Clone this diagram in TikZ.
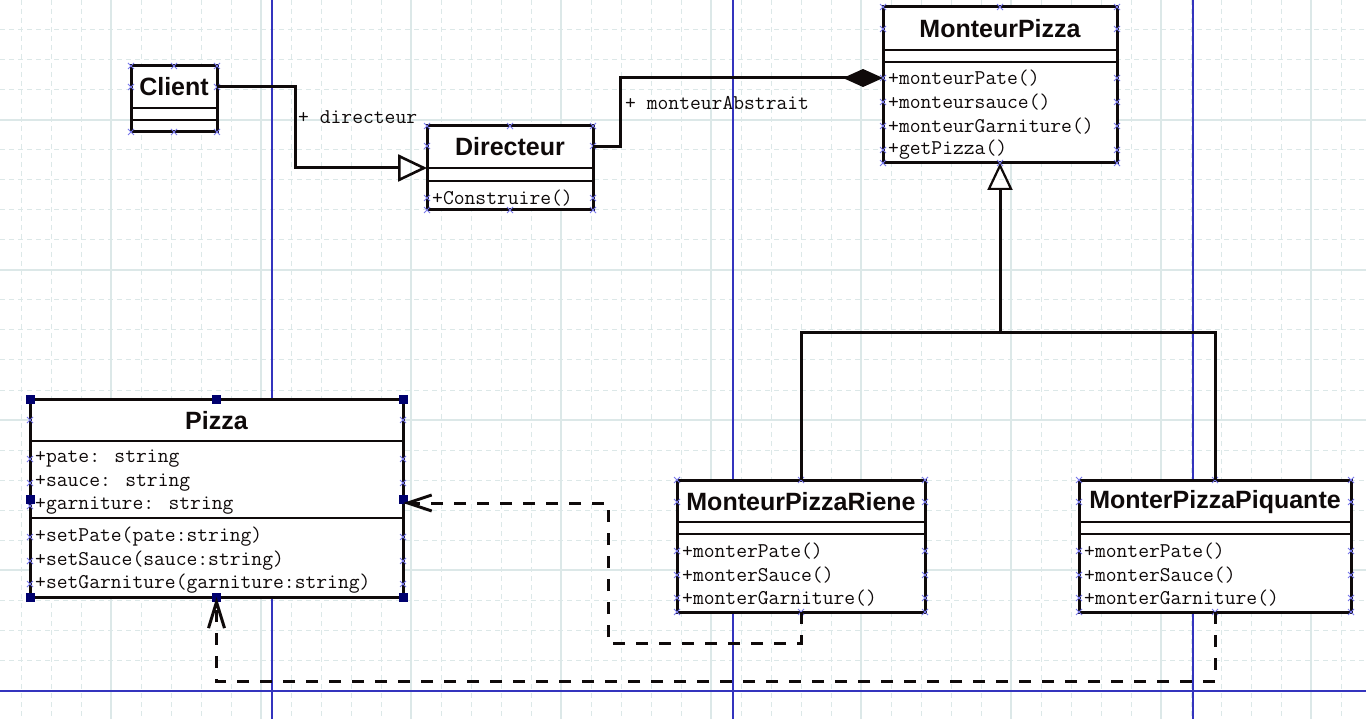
\documentclass[tikz,border=0pt]{standalone}
\usepackage{fontspec}
\setsansfont{Liberation Sans}
\usetikzlibrary{arrows.meta}

\definecolor{gridc}{RGB}{220,232,232}
\definecolor{guide}{RGB}{52,52,190}
\definecolor{anch}{RGB}{120,120,235}
\definecolor{handlec}{RGB}{0,0,110}
\definecolor{ink}{RGB}{15,10,10}

\tikzset{
  box/.style={draw=ink, line width=3pt, fill=white, inner sep=0pt, outer sep=0pt, anchor=north west},
  sep/.style={draw=ink, line width=2.4pt},
  title/.style={font=\sffamily\bfseries\fontsize{25}{28}\selectfont, text=ink, inner sep=0pt},
  member/.style={font=\ttfamily\fontsize{21}{24}\selectfont, text=ink, inner sep=0pt, anchor=west},
  conn/.style={draw=ink, line width=3pt},
  dep/.style={draw=ink, line width=3pt, dash pattern=on 12pt off 11pt},
  minorgrid/.style={draw=gridc, line width=1pt, dash pattern=on 5pt off 4pt},
  majorgrid/.style={draw=gridc, line width=1.2pt},
  guideline/.style={draw=guide, line width=1.7pt},
  anchorx/.pic={\draw[anch, line width=0.8pt] (-3,-3) -- (3,3) (-3,3) -- (3,-3);},
}

% class frame: name, left, top, right, bottom (pixel units)
\newcommand\umlclass[5]{%
  \node[box, minimum width={#4-#2}, minimum height={#5-#3}] (#1) at (#2,#3) {};}

\begin{document}
\begin{tikzpicture}[x=1pt, y=-1pt]
\useasboundingbox (0,0) rectangle (1366,719);
\fill[white] (0,0) rectangle (1366,719);

% background grid
\begin{scope}
\clip (0,0) rectangle (1366,719);
\foreach \x in {21,51,...,1341} \draw[minorgrid] (\x,0) -- (\x,719);
\foreach \y in {0,30,...,719} \draw[minorgrid] (0,\y) -- (1366,\y);
\foreach \x in {111,261,...,1311} \draw[majorgrid] (\x,0) -- (\x,719);
\foreach \y in {120,270,420,570} \draw[majorgrid] (0,\y) -- (1366,\y);
\foreach \x in {272,733,1193} \draw[guideline] (\x,0) -- (\x,719);
\draw[guideline] (0,691) -- (1366,691);
\end{scope}

% ---- Client
\umlclass{client}{131}{66}{217}{132}
\draw[sep] (131,108) -- (217,108);
\draw[sep] (131,120) -- (217,120);
\node[title] (clientT) at (174,87) {Client};

% ---- Directeur
\umlclass{dir}{427}{126}{593}{210}
\draw[sep] (427,168) -- (593,168);
\draw[sep] (427,181) -- (593,181);
\node[title] (dirT) at (510,147) {Directeur};
\node[member] (dirOp1) at (432,198) {+Construire()};
\path (dir.north west) ++(0,42) coordinate (dirIn);

% ---- MonteurPizza
\umlclass{mp}{883}{7}{1117}{163}
\draw[sep] (883,50) -- (1117,50);
\draw[sep] (883,62) -- (1117,62);
\node[title] (mpT) at (1000,29) {MonteurPizza};
\node[member] (mpOp1) at (888,78) {+monteurPate()};
\node[member] (mpOp2) at (888,102) {+monteursauce()};
\node[member] (mpOp3) at (888,126) {+monteurGarniture()};
\node[member] (mpOp4) at (888,150) {+getPizza()};

% ---- MonteurPizzaRiene
\umlclass{riene}{677}{480}{925}{612}
\draw[sep] (677,522) -- (925,522);
\draw[sep] (677,534) -- (925,534);
\node[title] (rieneT) at (801,502) {MonteurPizzaRiene};
\node[member] (rieneOp1) at (682,551) {+monterPate()};
\node[member] (rieneOp2) at (682,575) {+monterSauce()};
\node[member] (rieneOp3) at (682,598) {+monterGarniture()};

% ---- MonterPizzaPiquante
\umlclass{piq}{1079}{480}{1351}{612}
\draw[sep] (1079,522) -- (1351,522);
\draw[sep] (1079,534) -- (1351,534);
\node[title] (piqT) at (1215,502) {MonterPizzaPiquante};
\node[member] (piqOp1) at (1084,551) {+monterPate()};
\node[member] (piqOp2) at (1084,575) {+monterSauce()};
\node[member] (piqOp3) at (1084,598) {+monterGarniture()};

% ---- Pizza
\umlclass{pizza}{30}{399}{403}{597}
\draw[sep] (30,441) -- (403,441);
\draw[sep] (30,518) -- (403,518);
\node[title] (pizzaT) at (216.5,421) {Pizza};
\node[member] (pizzaA1) at (35,459) {+pate: string};
\node[member] (pizzaA2) at (35,483) {+sauce: string};
\node[member] (pizzaA3) at (35,506) {+garniture: string};
\node[member] (pizzaOp1) at (35,537) {+setPate(pate:string)};
\node[member] (pizzaOp2) at (35,561) {+setSauce(sauce:string)};
\node[member] (pizzaOp3) at (35,584) {+setGarniture(garniture:string)};

% anchor marks on the class frames
\foreach \p in {
  {131,66},{174,66},{217,66},{131,87},{217,87},{131,132},{174,132},{217,132},
  {427,126},{510,126},{593,126},{427,146},{593,146},{427,198},{593,198},{427,210},{510,210},{593,210},
  {883,7},{1000,7},{1117,7},{883,29},{1117,29},{883,78},{1117,78},{883,102},{1117,102},
  {883,126},{1117,126},{883,150},{1117,150},{883,163},{1000,163},{1117,163},
  {677,480},{801,480},{925,480},{677,502},{925,502},{677,551},{925,551},{677,575},{925,575},
  {677,598},{925,598},{677,612},{801,612},{925,612},
  {1079,480},{1215,480},{1351,480},{1079,502},{1351,502},{1079,551},{1351,551},{1079,575},{1351,575},
  {1079,598},{1351,598},{1079,612},{1215,612},{1351,612},
  {30,420},{403,420},{30,459},{403,459},{30,483},{403,483},{30,506},
  {30,537},{403,537},{30,561},{403,561},{30,584},{403,584}}
  \pic at (\p) {anchorx};

% selection handles on Pizza
\foreach \p in {{30,399},{216.5,399},{403,399},{30,499},{403,499},{30,597},{216.5,597},{403,597}}
  \fill[handlec] (\p) ++(-4.5,-4.5) rectangle ++(9,9);

% ---- connectors
\draw[conn, -{Triangle[open, length=29pt, width=27pt, line width=2.6pt]}]
  (client.east |- clientT) -- (295,87) |- (dirIn);
\node[member] (lblDir) at (298,117) {+ directeur};

\draw[conn, -{Diamond[length=40pt, width=18pt, fill=ink]}]
  (dir.east |- dirT) -- ++(27,0) |- (mp.west |- mpOp1);
\node[member] (lblMon) at (625,103) {+ monteurAbstrait};

\coordinate (gen) at (1000,333);
\draw[conn] (riene.north) -- (riene.north |- gen) -- (piq.north |- gen) -- (piq.north);
\draw[conn, -{Triangle[open, length=27pt, width=25pt, line width=2.2pt]}] (gen) -- (mp.south);

\draw[dep, -{Straight Barb[length=24pt, width=16pt]}]
  (riene.south) |- (608,643) |- ([yshift=-5pt]pizza.east);
\coordinate (depTurn) at (216.5,681);
\draw[dep, -{Straight Barb[length=26pt, width=16pt]}]
  (piq.south) |- (depTurn) -- (pizza.south);

\end{tikzpicture}
\end{document}
